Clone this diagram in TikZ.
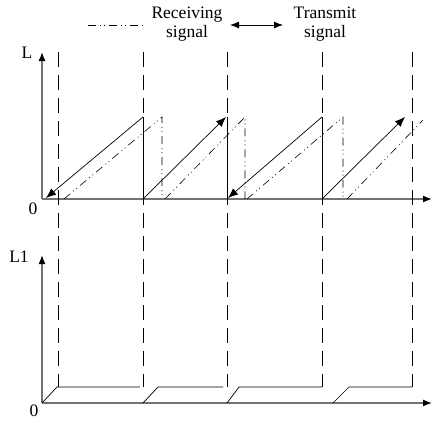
\documentclass[tikz,border=0pt]{standalone}
\usepackage{fontspec}
\setmainfont{Liberation Serif}
\usetikzlibrary{arrows.meta}
\begin{document}
\begin{tikzpicture}[x=1pt,y=-1pt,font=\fontsize{17.5}{18.5}\selectfont,
    axis/.style={draw=black!55,line width=1.3pt,-{Latex[length=9pt,width=7pt,color=black]}},
    guide/.style={line width=0.8pt,dash pattern=on 15pt off 8pt},
    recv/.style={line width=0.6pt,dash pattern=on 8pt off 4pt on 1pt off 3pt on 1pt off 4pt},
    send/.style={line width=0.7pt,-{Latex[length=10pt,width=8pt]}}]
        \useasboundingbox(0,0)rectangle(432,423);
        % axes
        \coordinate(O)at(42,199);
        \coordinate(Oa)at(42,403);
        \draw[axis](O)--(42,52);
        \draw[axis](O)--(432,199);
        \draw[axis](Oa)--(42,255);
        \draw[axis](Oa)--(432,403);
        \node(L)at(27,53){L};
        \node(zero)at(33,209){0};
        \node(Lone)at(19,257){L1};
        \node(zerob)at(34,411){0};
        % time marks
        \foreach \x in {58,143,227,322,412}
            \draw[guide](\x,52)--(\x,387);
        % legend
        \coordinate(r1)at(88,25);
        \coordinate(r2)at(143,25);
        \draw[recv](r1)--(r2);
        \node[align=center](rx)at(187,24){Receiving\\signal};
        \draw[line width=0.8pt,{Latex[length=9pt,width=7pt]}-{Latex[length=9pt,width=7pt]}](230,25)--(283,25);
        \node[align=center](tx)at(325,24){Transmit\\signal};
        % transmit ramps
        \coordinate(A)at(143,117);
        \coordinate(B)at(143,199);
        \coordinate(C)at(227,117);
        \coordinate(D)at(227,199);
        \coordinate(E)at(322,117);
        \coordinate(F)at(322,199);
        \draw[line width=0.7pt](A)--(B);
        \draw[line width=0.7pt](C)--(D);
        \draw[line width=0.7pt](E)--(F);
        \draw[send](A)--(46,198);
        \draw[send](B)--(226,117);
        \draw[send](E)--(228,198);
        \draw[send](F)--(405,117);
        % receiving ramps
        \draw[recv](64,199)--(162,117)--(162,199);
        \draw[recv](165,199)--(245,117)--(245,199);
        \draw[recv](247,199)--(343,117)--(343,199);
        \draw[recv](347,199)--(423,120);
        % L1 steps
        \draw[line width=0.7pt](Oa)--(57,387)--(140,387);
        \draw[line width=0.7pt](143,403)--(158,387)--(223,387);
        \draw[line width=0.7pt](227,403)--(239,387)--(322,387);
        \draw[line width=0.7pt](333,403)--(349,387)--(412,387);
    \end{tikzpicture}
\end{document}
